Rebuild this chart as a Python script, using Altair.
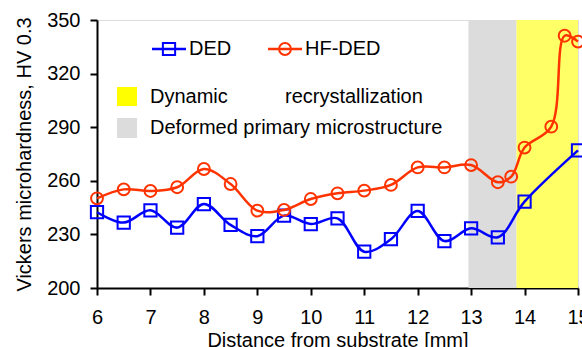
import altair as alt
import pandas as pd

# ---- data ----
ded_x = [6, 6.5, 7, 7.5, 8, 8.5, 9, 9.5, 10, 10.5, 11, 11.5, 12, 12.5, 13, 13.5, 14, 15]
ded_y = [242.4, 236.6, 243.5, 233.8, 247.0, 235.3, 229.0, 240.5, 235.8, 239.0, 220.3, 227.3,
         243.1, 226.3, 233.4, 228.4, 248.3, 277.0]

hf_x = [6, 6.5, 7, 7.5, 8, 8.5, 9, 9.5, 10, 10.5, 11, 11.5, 12, 12.5, 13, 13.5, 13.75, 14,
        14.5, 14.75, 15]
hf_y = [250.2, 255.2, 254.3, 256.4, 266.6, 258.2, 243.3, 243.7, 249.8, 253.0, 254.5, 257.7,
        267.5, 267.5, 268.8, 259.2, 262.3, 278.6, 290.3, 341.2, 337.9]

region_names = ["Deformed primary microstructure", "Dynamic recrystallization"]
region_start = [12.95, 13.85]
region_end = [13.85, 15.0]
region_colors = ["#DCDCDC", "#FFFF66"]

series_names = ["DED", "HF-DED"]
series_colors = ["#0000FF", "#FF3300"]

x_ticks = [6, 7, 8, 9, 10, 11, 12, 13, 14, 15]
y_ticks = [200, 230, 260, 290, 320, 350]

FONT = "Liberation Sans"

ded = pd.DataFrame({"x": ded_x, "y": ded_y, "s": "DED"})
hf = pd.DataFrame({"x": hf_x, "y": hf_y, "s": "HF-DED"})
regions = pd.DataFrame({"name": region_names, "start": region_start, "end": region_end})

xscale = alt.Scale(domain=[6, 15], nice=False, zero=False)
yscale = alt.Scale(domain=[200, 350], nice=False, zero=False)

xaxis = alt.Axis(values=x_ticks, format="d", labelOverlap=False, labelFlush=False,
                 title="Distance from substrate [mm]",
                 grid=False, labelFontSize=20, titleFontSize=20, labelFont=FONT, titleFont=FONT,
                 labelColor="black", titleColor="black", titleFontWeight="normal",
                 domainColor="black", domainWidth=2, tickColor="black", tickWidth=2,
                 tickSize=7, labelPadding=12, titlePadding=3)
yaxis = alt.Axis(values=y_ticks, format="d", labelOverlap=False, labelFlush=False,
                 title="Vickers microhardness, HV 0.3",
                 grid=False, labelFontSize=20, titleFontSize=20, labelFont=FONT, titleFont=FONT,
                 labelColor="black", titleColor="black", titleFontWeight="normal",
                 domainColor="black", domainWidth=2, tickColor="black", tickWidth=2,
                 tickSize=7, labelPadding=10, titlePadding=12)

rects = alt.Chart(regions).mark_rect().encode(
    x=alt.X("start:Q", scale=xscale, axis=xaxis),
    x2="end:Q",
    color=alt.Color("name:N", scale=alt.Scale(domain=region_names, range=region_colors), legend=None),
)

def series(df, color, shape, size):
    line = alt.Chart(df).mark_line(color=color, strokeWidth=2.5, interpolate="catmull-rom").encode(
        x=alt.X("x:Q", scale=xscale, axis=xaxis),
        y=alt.Y("y:Q", scale=yscale, axis=yaxis),
    )
    pts = alt.Chart(df).mark_point(shape=shape, filled=False, color=color, strokeWidth=2,
                                   size=size, opacity=1).encode(
        x=alt.X("x:Q", scale=xscale, axis=xaxis),
        y=alt.Y("y:Q", scale=yscale, axis=yaxis),
    )
    return line + pts

ded_layer = series(ded, series_colors[0], "square", 150)
hf_layer = series(hf, series_colors[1], "circle", 140)

# ---- manual legend (pixel positions inside plot area) ----
leg = []
for name, color, shape, x0, size in [("DED", series_colors[0], "square", 55, 150),
                                       ("HF-DED", series_colors[1], "circle", 171, 140)]:
    leg.append(alt.Chart().mark_rule(color=color, strokeWidth=2.5).encode(
        x=alt.value(x0), x2=alt.value(x0 + 34), y=alt.value(29)))
    leg.append(alt.Chart().mark_point(shape=shape, filled=False, color=color, strokeWidth=2,
                                      size=size, opacity=1).encode(
        x=alt.value(x0 + 17), y=alt.value(29)))
    leg.append(alt.Chart().mark_text(text=name, fontSize=20, font=FONT, align="left",
                                     baseline="middle", color="black").encode(
        x=alt.value(x0 + 37), y=alt.value(29)))

leg.append(alt.Chart().mark_rect(color="#FFFF00").encode(
    x=alt.value(20), x2=alt.value(40), y=alt.value(67), y2=alt.value(86)))
leg.append(alt.Chart().mark_text(text="Dynamic", fontSize=20, font=FONT, align="left",
                                 baseline="middle", color="black").encode(
    x=alt.value(53), y=alt.value(77)))
leg.append(alt.Chart().mark_text(text="recrystallization", fontSize=20, font=FONT, align="left",
                                 baseline="middle", color="black").encode(
    x=alt.value(188), y=alt.value(77)))
leg.append(alt.Chart().mark_rect(color="#DCDCDC").encode(
    x=alt.value(20), x2=alt.value(40), y=alt.value(98), y2=alt.value(118)))
leg.append(alt.Chart().mark_text(text=region_names[0], fontSize=20, font=FONT, align="left",
                                 baseline="middle", color="black").encode(
    x=alt.value(53), y=alt.value(108)))

chart = alt.layer(rects, ded_layer, hf_layer, *leg).properties(
    width=481, height=268,
    padding={"left": 97, "top": 20, "right": 4, "bottom": 59},
    autosize=alt.AutoSizeParams(type="none"),
).configure_view(stroke="black", strokeWidth=2).configure(background="white")

chart.save("out.html", embed_options={"renderer": "svg", "actions": False})
